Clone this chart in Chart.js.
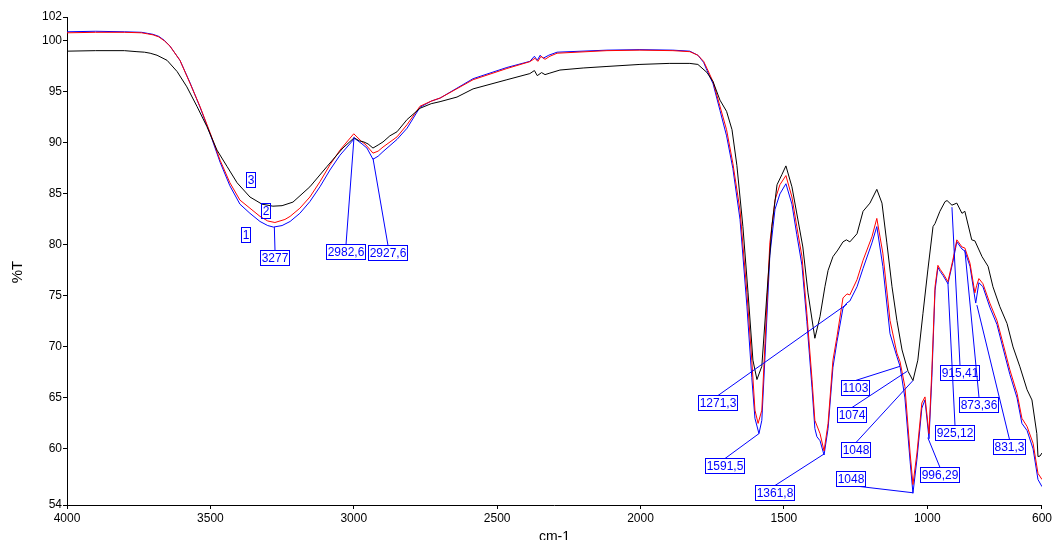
<!DOCTYPE html>
<html>
<head>
<meta charset="utf-8">
<script src="https://cdn.jsdelivr.net/npm/chart.js@4/dist/chart.umd.min.js"></script>
<style>
html,body{margin:0;padding:0;background:#fff;}
#wrap{width:1054px;height:540px;}
</style>
</head>
<body>
<div id="wrap"><canvas id="c" width="1054" height="540"></canvas></div>
<script>
// ---- Axis ticks ----
const xTickValues = [4000, 3500, 3000, 2500, 2000, 1500, 1000, 600];
const yTickValues = [54.5, 60, 65, 70, 75, 80, 85, 90, 95, 100, 102.35];
const yTickLabels = ['54', '60', '65', '70', '75', '80', '85', '90', '95', '100', '102'];

// ---- Series 3 (black) ----
const blackWn = [4000,3900,3800,3756,3730,3710,3686,3651,3616,3582,3547,3512,3477,3442,3407,3362,3320,3282,3250,3212,3153,3093,3038,2999,2980,2965,2950,2933,2915,2898,2874,2849,2814,2769,2730,2699,2640,2584,2466,2386,2370,2360,2345,2333,2316,2281,2200,2117,2002,1900,1828,1800,1768,1747,1723,1700,1681,1664,1643,1625,1608,1594,1577,1559,1542,1524,1507,1493,1472,1451,1434,1416,1392,1374,1357,1346,1329,1312,1294,1282,1270,1245,1224,1200,1176,1158,1141,1123,1106,1088,1067,1050,1033,1015,998,980,973,956,938,931,914,897,879,869,845,834,809,788,771,747,722,701,677,652,635,618,614,607,600];
const blackT  = [99.0,99.05,99.05,98.95,98.9,98.8,98.6,98.1,97.0,95.5,93.6,91.6,89.3,87.7,86.1,84.7,84.0,83.8,83.85,84.2,85.7,87.7,89.5,90.5,90.2,90.1,89.9,89.5,89.8,90.1,90.7,91.1,92.3,93.4,93.85,94.05,94.5,95.3,96.2,96.8,97.1,96.6,96.9,96.7,96.85,97.15,97.35,97.5,97.7,97.8,97.8,97.7,96.9,96.0,94.2,93.1,91.3,87.8,81.8,75.3,68.7,66.8,68.1,75.3,81.8,85.9,86.9,87.75,85.7,82.45,79.8,75.3,70.85,73.0,75.9,77.5,78.85,79.5,80.3,80.5,80.3,81.1,83.3,84.1,85.45,84.1,80.2,75.9,72.6,69.7,67.6,66.7,68.7,73.3,77.55,81.8,82.1,83.3,84.25,84.35,83.9,84.1,83.1,83.3,80.5,80.4,78.85,77.9,75.9,73.95,72.3,70.0,68.05,65.8,64.8,61.5,59.25,59.3,59.6];

// ---- Series 2 (red) ----
const redWn = [4000,3900,3800,3740,3720,3700,3680,3660,3641,3606,3571,3536,3501,3466,3432,3397,3362,3327,3300,3275,3240,3222,3188,3153,3118,3083,3048,3000,2971,2961,2945,2933,2915,2898,2849,2814,2769,2730,2699,2584,2466,2386,2368,2358,2347,2333,2316,2291,2117,2002,1887,1828,1800,1780,1768,1747,1723,1700,1678,1653,1629,1612,1601,1590,1577,1566,1549,1531,1514,1493,1472,1455,1437,1420,1402,1392,1374,1360,1346,1329,1315,1294,1280,1270,1245,1224,1193,1176,1155,1130,1106,1095,1078,1060,1050,1036,1019,1008,994,984,973,963,955,945,928,911,897,879,869,851,834,828,820,806,782,757,736,712,687,670,652,631,614,600];
const redT  = [100.8,100.85,100.85,100.8,100.7,100.6,100.4,100.0,99.5,98.1,95.85,93.56,91.0,88.3,86.1,84.4,83.6,82.8,82.35,82.2,82.5,82.8,83.6,84.7,86.2,87.85,89.3,90.9,90.1,89.9,89.4,89.0,89.2,89.6,90.6,91.8,93.6,94.1,94.4,96.2,97.3,97.97,98.3,98.0,98.5,98.2,98.5,98.8,99.05,99.1,99.05,98.95,98.6,98.0,97.3,96.0,93.6,91.3,88.0,83.4,75.3,68.7,63.8,62.5,63.8,70.35,80.2,84.4,85.9,86.8,84.7,81.8,78.85,73.3,66.8,62.8,61.5,59.8,62.5,68.7,71.0,74.8,75.2,75.1,76.6,78.5,80.8,82.6,79.2,72.6,69.4,68.55,66.1,59.6,56.5,59.6,64.5,65.1,61.5,67.75,75.9,78.0,77.6,77.2,76.4,78.5,80.5,79.8,79.7,78.2,75.3,76.0,76.7,76.2,74.3,72.6,70.35,67.75,65.45,63.0,62.2,60.55,57.6,57.0];

// ---- Series 1 (blue) ----
const blueWn = [4000,3900,3800,3740,3720,3700,3680,3660,3641,3606,3571,3536,3501,3466,3432,3397,3362,3327,3300,3280,3250,3222,3188,3153,3118,3083,3048,2997,2971,2954,2933,2915,2898,2849,2814,2769,2730,2699,2584,2466,2386,2370,2360,2350,2340,2320,2291,2117,2002,1887,1828,1800,1780,1768,1747,1723,1700,1678,1653,1629,1612,1601,1587,1577,1566,1549,1531,1514,1493,1472,1455,1437,1420,1402,1392,1385,1374,1360,1346,1329,1315,1294,1281,1270,1245,1224,1193,1176,1155,1130,1106,1095,1078,1060,1050,1036,1019,1008,994,984,973,963,955,945,928,911,897,879,869,851,834,831,820,806,782,757,736,712,687,670,652,631,614,600];
const blueT  = [100.9,100.95,100.9,100.85,100.75,100.65,100.45,100.05,99.5,98.1,95.9,93.5,90.9,88.1,85.8,84.0,83.1,82.3,81.9,81.75,81.9,82.3,83.1,84.25,85.7,87.35,88.8,90.45,89.9,89.5,88.4,88.7,89.15,90.35,91.45,93.5,94.1,94.4,96.3,97.4,98.0,98.5,98.1,98.6,98.3,98.6,98.9,99.1,99.15,99.1,99.0,98.6,97.9,97.1,95.8,93.2,90.7,87.5,82.5,74.0,67.0,63.0,61.5,62.8,69.0,79.0,83.5,85.0,86.0,84.0,81.0,78.0,72.5,66.0,62.0,61.2,60.8,59.4,62.0,68.0,70.5,73.8,74.3,74.5,75.9,77.7,80.2,81.8,77.9,71.3,69.05,68.1,65.0,58.8,55.65,59.0,64.0,64.8,61.0,67.0,75.5,77.8,77.4,77.0,76.2,78.3,80.3,79.6,79.4,77.9,74.8,74.3,76.3,75.9,73.9,72.2,69.9,67.3,65.0,62.5,61.8,60.0,57.0,56.3];

// ---- Peak annotations: text, box centre (wn, %T), peak point (wn, %T), leader anchor on box ----
const labelTexts = ['3277','2982,6','2927,6','1271,3','1591,5','1361,8','1103','1074','1048','1048','996,29','925,12','915,41','873,36','831,3','3','2','1'];
const labelBoxWn = [3278,3029,2881,1732,1707,1533,1251,1263,1251,1268,959,905,886,820,715,3361,3308,3379];
const labelBoxT  = [78.8,79.4,79.3,64.55,58.4,55.7,66.0,63.4,59.9,57.06,57.5,61.6,67.45,64.4,60.25,86.4,83.4,81.0];
const peakWn = [3277,2999,2933,1280,1587,1360,1095,1071,1050,1050,998,928,914,869,827,null,null,null];
const peakT  = [81.76,90.6,88.5,74.2,61.5,59.5,68.1,67.6,66.7,55.7,61.1,76.3,83.7,79.5,74.1,null,null,null];
const anchorX = [0.5,0.5,0.5,0.5,0.5,0.5,0.5,0.5,0.5,0.8,0.5,0.5,0.5,0.5,0.5,0.5,0.5,0.5];
const anchorBottom = [0,0,0,0,0,0,0,0,0,1,0,0,0,0,0,0,0,0];

const yTitle = '%T';
const FONT = '"Liberation Sans", Arial, sans-serif';
const toXY = (wn, t) => wn.map((w, i) => ({x: w, y: t[i]}));

const peakLabelPlugin = {
  id: 'peakLabels',
  afterDatasetsDraw(chart) {
    const {ctx} = chart;
    const xs = chart.scales.x, ys = chart.scales.y;
    ctx.save();
    ctx.font = '12px ' + FONT;
    ctx.strokeStyle = '#0000ff';
    ctx.fillStyle = '#0000ff';
    ctx.lineWidth = 1;
    ctx.textAlign = 'center';
    ctx.textBaseline = 'middle';
    labelTexts.forEach((txt, i) => {
      const cx = xs.getPixelForValue(labelBoxWn[i]);
      const cy = ys.getPixelForValue(labelBoxT[i]);
      const w = Math.round(ctx.measureText(txt).width + 2);
      const h = 15;
      const bx = Math.round(cx - w / 2) + 0.5;
      const by = Math.round(cy - h / 2) + 0.5;
      ctx.strokeRect(bx, by, w, h);
      ctx.fillText(txt, bx + w / 2, by + h / 2 + 1);
      if (peakWn[i] !== null) {
        const sx = bx + w * anchorX[i];
        const sy = anchorBottom[i] ? by + h : by;
        ctx.beginPath();
        ctx.moveTo(sx, sy);
        ctx.lineTo(xs.getPixelForValue(peakWn[i]), ys.getPixelForValue(peakT[i]));
        ctx.stroke();
      }
    });
    // y-axis title, placed as in the reference
    ctx.fillStyle = '#000';
    ctx.font = '15px ' + FONT;
    ctx.translate(18, chart.chartArea.top + (chart.chartArea.bottom - chart.chartArea.top) / 2 + 11);
    ctx.rotate(-Math.PI / 2);
    ctx.fillText(yTitle, 0, 0);
    ctx.restore();
  }
};

const lineDs = (label, data, color) => ({
  label, data, borderColor: color, borderWidth: 1, pointRadius: 0, tension: 0, fill: false
});

new Chart(document.getElementById('c'), {
  type: 'line',
  data: {
    datasets: [
      lineDs('3', toXY(blackWn, blackT), '#000000'),
      lineDs('2', toXY(redWn, redT), '#ff0000'),
      lineDs('1', toXY(blueWn, blueT), '#0000ff')
    ]
  },
  options: {
    responsive: false,
    animation: false,
    devicePixelRatio: 1,
    parsing: false,
    layout: {padding: {left: 0, right: 12, top: 17, bottom: 0}},
    plugins: {legend: {display: false}, tooltip: {enabled: false}},
    scales: {
      x: {
        type: 'linear', reverse: true, min: 600, max: 4000,
        afterBuildTicks: s => { s.ticks = xTickValues.map(v => ({value: v})); },
        afterFit: s => { s.height = 35; },
        grid: {drawOnChartArea: false, drawTicks: true, tickLength: 4, color: '#000'},
        border: {display: true, color: '#000', width: 1},
        ticks: {color: '#000', font: {size: 12, family: FONT}, maxRotation: 0, autoSkip: false, padding: 2,
                callback: v => String(v)},
        title: {display: true, text: 'cm-1', color: '#000', font: {size: 14, family: FONT}, padding: {top: 0, bottom: -6}}
      },
      y: {
        type: 'linear', min: 54.5, max: 102.35,
        afterBuildTicks: s => { s.ticks = yTickValues.map(v => ({value: v})); },
        afterFit: s => { s.width = 67; },
        grid: {drawOnChartArea: false, drawTicks: true, tickLength: 4, color: '#000'},
        border: {display: true, color: '#000', width: 1},
        ticks: {color: '#000', font: {size: 12, family: FONT}, autoSkip: false, padding: 1,
                callback: (v, i) => yTickLabels[i]},
        title: {display: false}
      }
    }
  },
  plugins: [peakLabelPlugin]
});
</script>
</body>
</html>
